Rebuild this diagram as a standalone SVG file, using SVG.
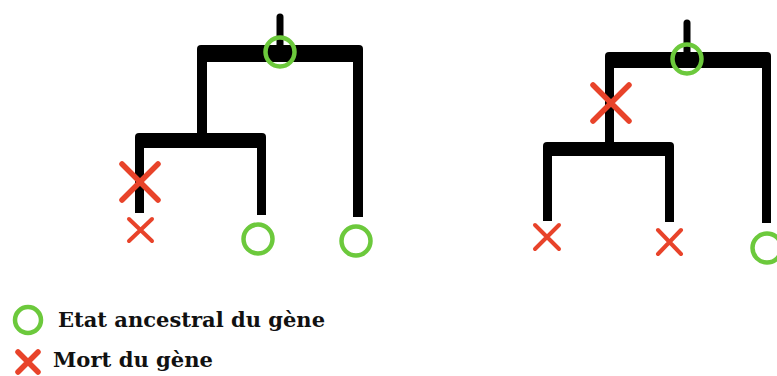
<svg xmlns="http://www.w3.org/2000/svg" width="777" height="376" viewBox="0 0 777 376">
<style>
.br{fill:#000}
.stub{stroke:#000;stroke-width:7;stroke-linecap:round;fill:none}
.ok{fill:none;stroke:#6cc93c;stroke-width:4.5}
.x{stroke:#e8432a;stroke-linecap:round;fill:none}
.big{stroke-width:5.5}
.sm{stroke-width:4}
.lbl{font-family:"DejaVu Serif","Liberation Serif",serif;font-weight:bold;font-size:21px;fill:#111}
</style>
<rect width="777" height="376" fill="#fff"/>
<g id="connectors">
  <g id="tree-left">
    <line class="stub" x1="280" y1="17" x2="280" y2="50"/>
    <rect class="br" x="197" y="45" width="166" height="17" rx="4"/>
    <rect class="br" x="197" y="50" width="10" height="92"/>
    <rect class="br" x="135" y="133" width="131" height="15" rx="4"/>
    <rect class="br" x="135" y="140" width="9" height="73"/>
    <rect class="br" x="257" y="140" width="9" height="75"/>
    <rect class="br" x="353" y="50" width="10" height="167"/>
  </g>
  <g id="tree-right">
    <line class="stub" x1="687" y1="23" x2="687" y2="55"/>
    <rect class="br" x="605" y="52" width="166" height="16" rx="4"/>
    <rect class="br" x="605" y="58" width="9" height="92"/>
    <rect class="br" x="543" y="142" width="131" height="14" rx="4"/>
    <rect class="br" x="543" y="148" width="9" height="73"/>
    <rect class="br" x="665" y="148" width="9" height="74"/>
    <rect class="br" x="762" y="58" width="9" height="165"/>
  </g>
</g>
<g id="root-left"><circle class="ok" cx="280" cy="52" r="14.5"/></g>
<g id="death-left-branch"><path class="x big" d="M122,164 L158,200 M158,164 L122,200"/></g>
<g id="leaf-left-1"><path class="x sm" d="M129,219 L152,241 M152,219 L129,241"/></g>
<g id="leaf-left-2"><circle class="ok" cx="258" cy="239" r="14.5"/></g>
<g id="leaf-left-3"><circle class="ok" cx="356" cy="241" r="14.5"/></g>
<g id="root-right"><circle class="ok" cx="687" cy="59" r="14.5"/></g>
<g id="death-right-branch"><path class="x big" d="M593,85 L629,121 M629,85 L593,121"/></g>
<g id="leaf-right-1"><path class="x sm" d="M535,225 L559,249 M559,225 L535,249"/></g>
<g id="leaf-right-2"><path class="x sm" d="M658,230 L681,254 M681,230 L658,254"/></g>
<g id="leaf-right-3"><circle class="ok" cx="767" cy="248" r="14.5"/></g>
<g id="legend">
  <circle class="ok" cx="28" cy="320" r="13"/>
  <text class="lbl" x="58" y="327" textLength="267" lengthAdjust="spacingAndGlyphs">Etat ancestral du gène</text>
  <path class="x big" d="M18,352 L38,372 M38,352 L18,372"/>
  <text class="lbl" x="53" y="367" textLength="160" lengthAdjust="spacingAndGlyphs">Mort du gène</text>
</g>
</svg>
